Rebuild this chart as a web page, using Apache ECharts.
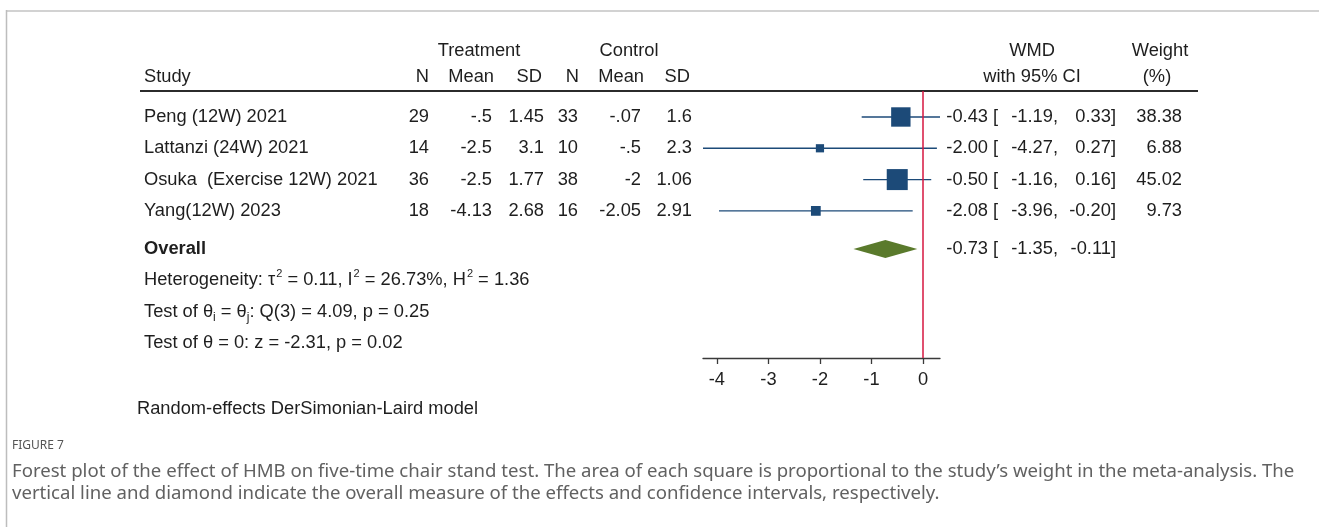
<!DOCTYPE html>
<html>
<head>
<meta charset="utf-8">
<script src="https://cdn.jsdelivr.net/npm/echarts@6/dist/echarts.min.js"></script>
<style>
  html, body { margin: 0; padding: 0; background: #ffffff; }
  #chart { width: 1319px; height: 527px; }
</style>
</head>
<body>
<div id="chart"></div>
<script>
// ---- study data ----
const studies = ['Peng (12W) 2021', 'Lattanzi (24W) 2021', 'Osuka  (Exercise 12W) 2021', 'Yang(12W) 2023'];
const treatN = [29, 14, 36, 18];
const treatMean = [-0.5, -2.5, -2.5, -4.13];
const treatSD = [1.45, 3.1, 1.77, 2.68];
const ctrlN = [33, 10, 38, 16];
const ctrlMean = [-0.07, -0.5, -2, -2.05];
const ctrlSD = [1.6, 2.3, 1.06, 2.91];
const wmd = [-0.43, -2.00, -0.50, -2.08];
const ciLow = [-1.19, -4.27, -1.16, -3.96];
const ciHigh = [0.33, 0.27, 0.16, -0.20];
const weights = [38.38, 6.88, 45.02, 9.73];
const overallWmd = -0.73;
const overallLow = -1.35;
const overallHigh = -0.11;
const xTicks = [-4, -3, -2, -1, 0];
const statLines = [
  'Heterogeneity: τ{sup|2} = 0.11, I{sup|2} = 26.73%, H{sup|2} = 1.36',
  'Test of θ{sub|i} = θ{sub|j}: Q(3) = 4.09, p = 0.25',
  'Test of θ = 0: z = -2.31, p = 0.02'
];

// ---- styling ----
const FONT = '"Liberation Sans", Arial, sans-serif';
const FS = 18.3;
const INK = '#1e1e1e';
const NAVY = '#1c4a78';
const OLIVE = '#5a7a2c';
const RED = '#d6163f';

// Row positions on the (inverted) vertical axis
const overallRow = studies.length + 0.22;
const yMin = -0.83, yMax = 7.70;

// Stata-style number format: drop the leading zero (-0.5 -> -.5)
const sfmt = v => String(v).replace(/^(-?)0\./, '$1.');

const chart = echarts.init(document.getElementById('chart'), null, { renderer: 'canvas' });

const studyData = studies.map((s, i) => [wmd[i], ciLow[i], ciHigh[i], weights[i], i]);

chart.setOption({
  animation: false,
  backgroundColor: '#ffffff',
  grid: { left: 703, right: 379, top: 91, bottom: 169, containLabel: false },
  xAxis: {
    type: 'value',
    min: Math.min(...ciLow),
    max: Math.max(...ciHigh),
    splitLine: { show: false },
    axisLine: { show: true, onZero: false, lineStyle: { color: '#3a3a3a', width: 1.3 } },
    axisTick: { show: true, length: 6, customValues: xTicks, lineStyle: { color: '#3a3a3a', width: 1.3 } },
    axisLabel: { customValues: xTicks, margin: 13, fontSize: FS, fontFamily: FONT, color: INK }
  },
  yAxis: {
    type: 'value', inverse: true, min: yMin, max: yMax, show: false
  },
  series: [
    {
      type: 'custom',
      name: 'studies',
      data: studyData,
      encode: { x: [0, 1, 2], y: 4 },
      clip: false,
      renderItem: function (params, api) {
        const est = api.value(0), lo = api.value(1), hi = api.value(2), w = api.value(3), row = api.value(4);
        const a = api.coord([lo, row]);
        const b = api.coord([hi, row]);
        const c = api.coord([est, row]);
        const side = 3.13 * Math.sqrt(w);
        return {
          type: 'group',
          children: [
            { type: 'line', shape: { x1: a[0], y1: a[1], x2: b[0], y2: b[1] },
              style: { stroke: NAVY, lineWidth: 1.4 } },
            { type: 'rect', shape: { x: c[0] - side / 2, y: c[1] - side / 2, width: side, height: side },
              style: { fill: NAVY } }
          ]
        };
      },
      markLine: {
        silent: true,
        symbol: 'none',
        label: { show: false },
        lineStyle: { color: RED, width: 1.5, type: 'solid', opacity: 1 },
        data: [{ xAxis: 0 }]
      }
    },
    {
      type: 'custom',
      name: 'overall',
      data: [[overallWmd, overallLow, overallHigh, overallRow]],
      encode: { x: [0, 1, 2], y: 3 },
      clip: false,
      renderItem: function (params, api) {
        const est = api.value(0), lo = api.value(1), hi = api.value(2), row = api.value(3);
        const a = api.coord([lo, row]);
        const b = api.coord([hi, row]);
        const c = api.coord([est, row]);
        const h = 9;
        return {
          type: 'polygon',
          shape: { points: [[a[0], a[1]], [c[0], c[1] - h], [b[0], b[1]], [c[0], c[1] + h]] },
          style: { fill: OLIVE }
        };
      }
    }
  ]
});

// ---- table text, placed on the same rows as the marks ----
const rowPix = r => chart.convertToPixel({ gridIndex: 0 }, [0, r])[1];

function txt(x, y, text, align, extra) {
  return {
    type: 'text', x: x, y: y, silent: true,
    style: Object.assign({ text: text, fontSize: FS, fontFamily: FONT, fill: INK,
      align: align || 'left', verticalAlign: 'middle' }, extra || {})
  };
}

const g = [];
// frame
g.push({ type: 'line', silent: true, shape: { x1: 6, y1: 11, x2: 1319, y2: 11 }, style: { stroke: '#d2d2d2', lineWidth: 2 } });
g.push({ type: 'line', silent: true, shape: { x1: 6.5, y1: 10, x2: 6.5, y2: 527 }, style: { stroke: '#bdbdbd', lineWidth: 1.5 } });

// headers
const H1 = 51, H2 = 77;
g.push(txt(479, H1, 'Treatment', 'center'));
g.push(txt(629, H1, 'Control', 'center'));
g.push(txt(1032, H1, 'WMD', 'center'));
g.push(txt(1160, H1, 'Weight', 'center'));
g.push(txt(144, H2, 'Study'));
g.push(txt(429, H2, 'N', 'right'));
g.push(txt(494, H2, 'Mean', 'right'));
g.push(txt(542, H2, 'SD', 'right'));
g.push(txt(579, H2, 'N', 'right'));
g.push(txt(644, H2, 'Mean', 'right'));
g.push(txt(690, H2, 'SD', 'right'));
g.push(txt(1032, H2, 'with 95% CI', 'center'));
g.push(txt(1157, H2, '(%)', 'center'));
g.push({ type: 'line', silent: true, shape: { x1: 140, y1: 91, x2: 1198, y2: 91 }, style: { stroke: '#2b2b2b', lineWidth: 2.2 } });

function ciText(y, est, lo, hi) {
  g.push(txt(988, y, est.toFixed(2), 'right'));
  g.push(txt(993, y, '[', 'left'));
  g.push(txt(1058, y, lo.toFixed(2) + ',', 'right'));
  g.push(txt(1116, y, hi.toFixed(2) + ']', 'right'));
}

studies.forEach((s, i) => {
  const y = rowPix(i);
  g.push(txt(144, y, s));
  g.push(txt(429, y, String(treatN[i]), 'right'));
  g.push(txt(492, y, sfmt(treatMean[i]), 'right'));
  g.push(txt(544, y, sfmt(treatSD[i]), 'right'));
  g.push(txt(578, y, String(ctrlN[i]), 'right'));
  g.push(txt(641, y, sfmt(ctrlMean[i]), 'right'));
  g.push(txt(692, y, sfmt(ctrlSD[i]), 'right'));
  ciText(y, wmd[i], ciLow[i], ciHigh[i]);
  g.push(txt(1182, y, weights[i].toFixed(2), 'right'));
});

const yo = rowPix(overallRow);
g.push(txt(144, yo, 'Overall', 'left', { fontWeight: 'bold' }));
ciText(yo, overallWmd, overallLow, overallHigh);

statLines.forEach((line, k) => {
  g.push({
    type: 'text', x: 144, y: rowPix(overallRow + 1 + k), silent: true,
    style: {
      text: line, fontSize: FS, fontFamily: FONT, fill: INK, verticalAlign: 'middle',
      lineHeight: 24,
      rich: {
        sup: { fontSize: 11, fontFamily: FONT, fill: INK, verticalAlign: 'top', lineHeight: 11, padding: [0, 0, 0, 1] },
        sub: { fontSize: 12, fontFamily: FONT, fill: INK, verticalAlign: 'bottom', lineHeight: 16 }
      }
    }
  });
});

g.push(txt(137, 409, 'Random-effects DerSimonian-Laird model'));

// caption
const CAP_FONT = '"Noto Sans", "Open Sans", sans-serif';
g.push({ type: 'text', x: 12, y: 446, silent: true,
  style: { text: 'FIGURE 7', fontSize: 12, fontFamily: CAP_FONT, fill: '#555555', verticalAlign: 'middle' } });
g.push({ type: 'text', x: 12, y: 472, silent: true,
  style: { text: 'Forest plot of the effect of HMB on five-time chair stand test. The area of each square is proportional to the study’s weight in the meta-analysis. The',
    fontSize: 18.6, fontFamily: CAP_FONT, fill: '#616161', verticalAlign: 'middle' } });
g.push({ type: 'text', x: 12, y: 494, silent: true,
  style: { text: 'vertical line and diamond indicate the overall measure of the effects and confidence intervals, respectively.',
    fontSize: 18.6, fontFamily: CAP_FONT, fill: '#616161', verticalAlign: 'middle' } });

chart.setOption({ graphic: g });
</script>
</body>
</html>
